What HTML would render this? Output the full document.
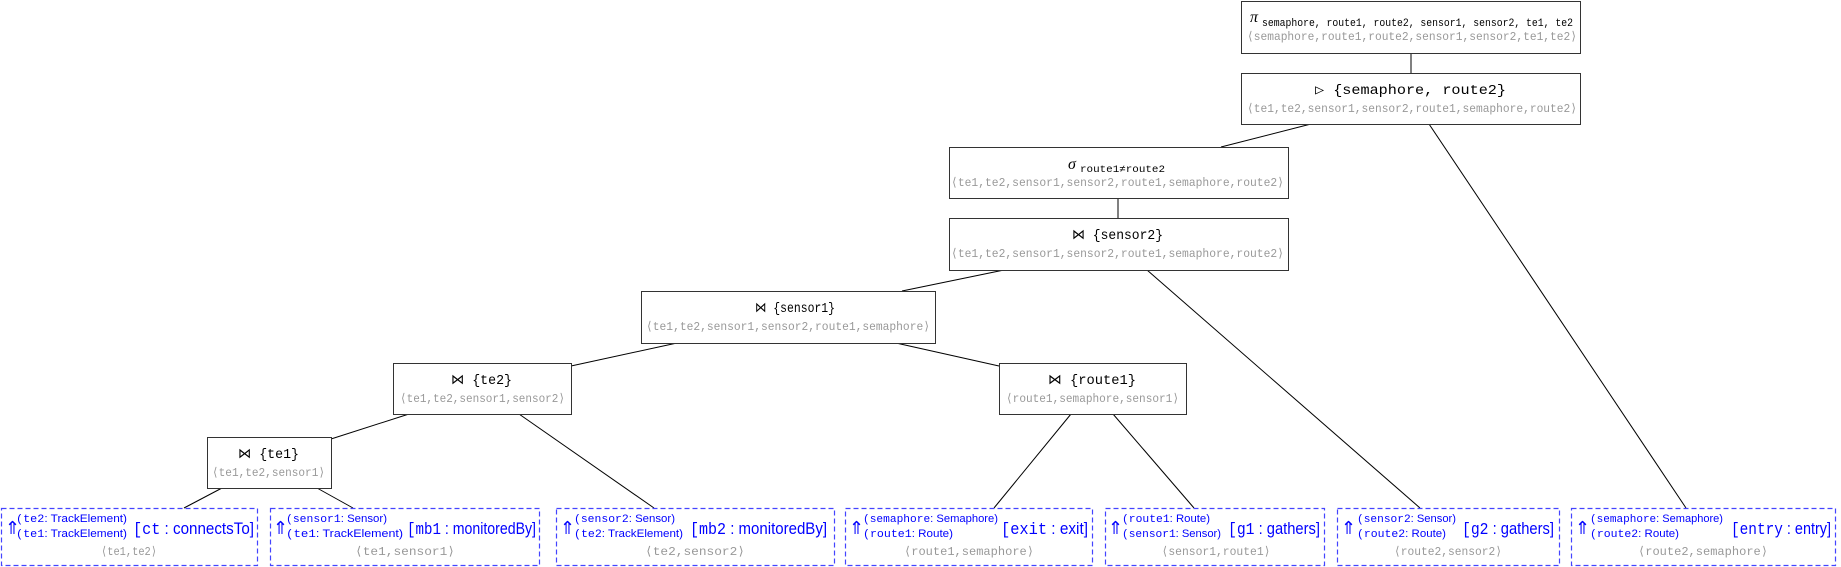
<!DOCTYPE html>
<html><head><meta charset="utf-8"><style>
html,body{margin:0;padding:0;background:#fff;width:1841px;height:567px;overflow:hidden}
svg{display:block}
.m{font-family:"Liberation Mono","DejaVu Sans Mono",monospace}
.s{font-family:"Liberation Sans","DejaVu Sans",sans-serif}
.t{font-family:"Liberation Mono",monospace;font-size:14px;fill:#000}
.g{font-family:"Liberation Mono",monospace;font-size:12px;fill:#999}
.b{fill:#0000ff}
</style></head><body>
<svg width="1841" height="567" viewBox="0 0 1841 567" xmlns="http://www.w3.org/2000/svg">
<g stroke="#000" stroke-width="1" fill="none">
<line x1="1411" y1="53" x2="1411" y2="73"/>
<line x1="1311" y1="124" x2="1221" y2="147"/>
<line x1="1429" y1="124" x2="1686" y2="508"/>
<line x1="1118" y1="198" x2="1118" y2="218"/>
<line x1="1004" y1="270" x2="902" y2="291"/>
<line x1="1147" y1="270" x2="1420" y2="508"/>
<line x1="677" y1="343" x2="571" y2="366"/>
<line x1="896" y1="343" x2="999" y2="366"/>
<line x1="409" y1="414" x2="331" y2="439"/>
<line x1="519" y1="414" x2="654" y2="508"/>
<line x1="1071" y1="414" x2="994" y2="508"/>
<line x1="1113" y1="414" x2="1194" y2="508"/>
<line x1="222" y1="488" x2="184" y2="508"/>
<line x1="317" y1="488" x2="353" y2="508"/>
</g>
<g stroke="#333" stroke-width="1" fill="#fff">
<rect x="1241.5" y="1.5" width="339" height="52"/>
<rect x="1241.5" y="73.5" width="339" height="51"/>
<rect x="949.5" y="147.5" width="339" height="51"/>
<rect x="949.5" y="218.5" width="339" height="52"/>
<rect x="641.5" y="291.5" width="294" height="52"/>
<rect x="393.5" y="363.5" width="178" height="51"/>
<rect x="999.5" y="363.5" width="187" height="51"/>
<rect x="207.5" y="437.5" width="124" height="51"/>
</g>
<g stroke="#4444ff" stroke-width="1.2" stroke-dasharray="5,3" fill="#fff">
<rect x="1.5" y="508.5" width="256" height="57"/>
<rect x="270.5" y="508.5" width="269" height="57"/>
<rect x="556.5" y="508.5" width="278" height="57"/>
<rect x="845.5" y="508.5" width="247" height="57"/>
<rect x="1105.5" y="508.5" width="219" height="57"/>
<rect x="1337.5" y="508.5" width="222" height="57"/>
<rect x="1571.5" y="508.5" width="264" height="57"/>
</g>
<text x="1250" y="22" style="font-family:'Liberation Serif',serif;font-size:16px;font-style:italic">π</text>
<text class="m" x="1262" y="26" font-size="11" textLength="311" lengthAdjust="spacingAndGlyphs">semaphore, route1, route2, sensor1, sensor2, te1, te2</text>
<text class="g" x="1247" y="40" textLength="330" lengthAdjust="spacingAndGlyphs">⟨semaphore,route1,route2,sensor1,sensor2,te1,te2⟩</text>
<text class="t" x="1315" y="94" textLength="191" lengthAdjust="spacingAndGlyphs">▷ {semaphore, route2}</text>
<text class="g" x="1247" y="112" textLength="330" lengthAdjust="spacingAndGlyphs">⟨te1,te2,sensor1,sensor2,route1,semaphore,route2⟩</text>
<text x="1068" y="169" style="font-family:'Liberation Serif',serif;font-size:16px;font-style:italic">σ</text>
<text class="m" x="1080" y="172" font-size="10" textLength="85" lengthAdjust="spacingAndGlyphs">route1≠route2</text>
<text class="g" x="951" y="186" textLength="333" lengthAdjust="spacingAndGlyphs">⟨te1,te2,sensor1,sensor2,route1,semaphore,route2⟩</text>
<text class="t" x="1072" y="239" textLength="91" lengthAdjust="spacingAndGlyphs">⋈ {sensor2}</text>
<text class="g" x="951" y="257" textLength="333" lengthAdjust="spacingAndGlyphs">⟨te1,te2,sensor1,sensor2,route1,semaphore,route2⟩</text>
<text class="t" x="755" y="312" textLength="80" lengthAdjust="spacingAndGlyphs">⋈ {sensor1}</text>
<text class="g" x="646" y="330" textLength="284" lengthAdjust="spacingAndGlyphs">⟨te1,te2,sensor1,sensor2,route1,semaphore⟩</text>
<text class="t" x="451" y="384" textLength="61" lengthAdjust="spacingAndGlyphs">⋈ {te2}</text>
<text class="g" x="400" y="402" textLength="165" lengthAdjust="spacingAndGlyphs">⟨te1,te2,sensor1,sensor2⟩</text>
<text class="t" x="1048" y="384" textLength="88" lengthAdjust="spacingAndGlyphs">⋈ {route1}</text>
<text class="g" x="1006" y="402" textLength="173" lengthAdjust="spacingAndGlyphs">⟨route1,semaphore,sensor1⟩</text>
<text class="t" x="238" y="458" textLength="61" lengthAdjust="spacingAndGlyphs">⋈ {te1}</text>
<text class="g" x="212" y="476" textLength="113" lengthAdjust="spacingAndGlyphs">⟨te1,te2,sensor1⟩</text>

<g class="b">
<text x="5" y="534" class="s" font-size="18">⇑</text>
<text x="16" y="522" font-size="11" textLength="111" lengthAdjust="spacingAndGlyphs"><tspan class="m">(te2</tspan><tspan class="s">: TrackElement)</tspan></text>
<text x="16" y="537" font-size="11" textLength="111" lengthAdjust="spacingAndGlyphs"><tspan class="m">(te1</tspan><tspan class="s">: TrackElement)</tspan></text>
<text x="133" y="534" font-size="17" textLength="121" lengthAdjust="spacingAndGlyphs"><tspan class="m">[ct</tspan><tspan class="s"> : connectsTo]</tspan></text>

<text x="273" y="534" class="s" font-size="18">⇑</text>
<text x="286" y="522" font-size="11" textLength="101" lengthAdjust="spacingAndGlyphs"><tspan class="m">(sensor1</tspan><tspan class="s">: Sensor)</tspan></text>
<text x="286" y="537" font-size="11" textLength="117" lengthAdjust="spacingAndGlyphs"><tspan class="m">(te1</tspan><tspan class="s">: TrackElement)</tspan></text>
<text x="407" y="534" font-size="17" textLength="129" lengthAdjust="spacingAndGlyphs"><tspan class="m">[mb1</tspan><tspan class="s"> : monitoredBy]</tspan></text>

<text x="560" y="534" class="s" font-size="18">⇑</text>
<text x="574" y="522" font-size="11" textLength="101" lengthAdjust="spacingAndGlyphs"><tspan class="m">(sensor2</tspan><tspan class="s">: Sensor)</tspan></text>
<text x="574" y="537" font-size="11" textLength="109" lengthAdjust="spacingAndGlyphs"><tspan class="m">(te2</tspan><tspan class="s">: TrackElement)</tspan></text>
<text x="690" y="534" font-size="17" textLength="137" lengthAdjust="spacingAndGlyphs"><tspan class="m">[mb2</tspan><tspan class="s"> : monitoredBy]</tspan></text>

<text x="849" y="534" class="s" font-size="18">⇑</text>
<text x="863" y="522" font-size="11" textLength="135" lengthAdjust="spacingAndGlyphs"><tspan class="m">(semaphore</tspan><tspan class="s">: Semaphore)</tspan></text>
<text x="863" y="537" font-size="11" textLength="90" lengthAdjust="spacingAndGlyphs"><tspan class="m">(route1</tspan><tspan class="s">: Route)</tspan></text>
<text x="1001" y="534" font-size="17" textLength="87" lengthAdjust="spacingAndGlyphs"><tspan class="m">[exit</tspan><tspan class="s"> : exit]</tspan></text>

<text x="1108" y="534" class="s" font-size="18">⇑</text>
<text x="1122" y="522" font-size="11" textLength="88" lengthAdjust="spacingAndGlyphs"><tspan class="m">(route1</tspan><tspan class="s">: Route)</tspan></text>
<text x="1122" y="537" font-size="11" textLength="99" lengthAdjust="spacingAndGlyphs"><tspan class="m">(sensor1</tspan><tspan class="s">: Sensor)</tspan></text>
<text x="1228" y="534" font-size="17" textLength="92" lengthAdjust="spacingAndGlyphs"><tspan class="m">[g1</tspan><tspan class="s"> : gathers]</tspan></text>

<text x="1341" y="534" class="s" font-size="18">⇑</text>
<text x="1357" y="522" font-size="11" textLength="99" lengthAdjust="spacingAndGlyphs"><tspan class="m">(sensor2</tspan><tspan class="s">: Sensor)</tspan></text>
<text x="1357" y="537" font-size="11" textLength="89" lengthAdjust="spacingAndGlyphs"><tspan class="m">(route2</tspan><tspan class="s">: Route)</tspan></text>
<text x="1462" y="534" font-size="17" textLength="92" lengthAdjust="spacingAndGlyphs"><tspan class="m">[g2</tspan><tspan class="s"> : gathers]</tspan></text>

<text x="1575" y="534" class="s" font-size="18">⇑</text>
<text x="1590" y="522" font-size="11" textLength="133" lengthAdjust="spacingAndGlyphs"><tspan class="m">(semaphore</tspan><tspan class="s">: Semaphore)</tspan></text>
<text x="1590" y="537" font-size="11" textLength="89" lengthAdjust="spacingAndGlyphs"><tspan class="m">(route2</tspan><tspan class="s">: Route)</tspan></text>
<text x="1731" y="534" font-size="17" textLength="100" lengthAdjust="spacingAndGlyphs"><tspan class="m">[entry</tspan><tspan class="s"> : entry]</tspan></text>
</g>
<g text-anchor="middle">
<text x="129" y="555" class="g" textLength="56" lengthAdjust="spacingAndGlyphs">⟨te1,te2⟩</text>
<text x="405" y="555" class="g" textLength="100" lengthAdjust="spacingAndGlyphs">⟨te1,sensor1⟩</text>
<text x="695" y="555" class="g" textLength="100" lengthAdjust="spacingAndGlyphs">⟨te2,sensor2⟩</text>
<text x="969" y="555" class="g" textLength="130" lengthAdjust="spacingAndGlyphs">⟨route1,semaphore⟩</text>
<text x="1216" y="555" class="g" textLength="109" lengthAdjust="spacingAndGlyphs">⟨sensor1,route1⟩</text>
<text x="1448" y="555" class="g" textLength="108" lengthAdjust="spacingAndGlyphs">⟨route2,sensor2⟩</text>
<text x="1703" y="555" class="g" textLength="130" lengthAdjust="spacingAndGlyphs">⟨route2,semaphore⟩</text>
</g>
</svg>
</body></html>
